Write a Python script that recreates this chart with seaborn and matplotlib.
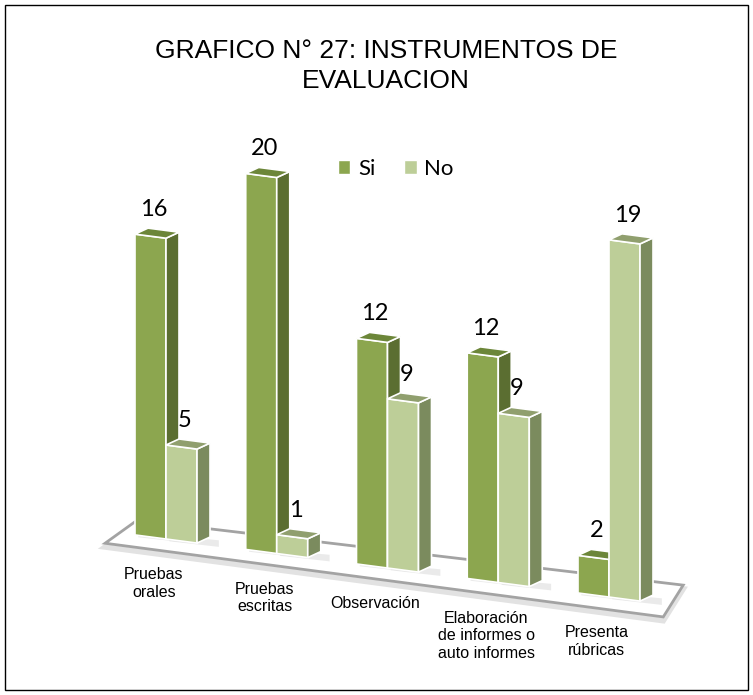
import matplotlib
matplotlib.use("Agg")
import matplotlib.pyplot as plt
import matplotlib.colors as mcolors
from matplotlib.patches import Polygon, Rectangle
from matplotlib.transforms import Affine2D
import numpy as np
import pandas as pd
import seaborn as sns

# datos del grafico
categorias = ["Pruebas\norales", "Pruebas\nescritas", "Observación",
              "Elaboración\nde informes o\nauto informes", "Presenta\nrúbricas"]
si = [16, 20, 12, 12, 2]
no = [5, 1, 9, 9, 19]

df = pd.DataFrame({
    "categoria": categorias * 2,
    "respuesta": ["Si"] * len(si) + ["No"] * len(no),
    "valor": si + no,
})

# colores: frente, lado, tapa
frente = {"Si": "#8CA64F", "No": "#BDCE98"}
lado = {"Si": "#5B6E31", "No": "#7B8B5E"}
tapa = {"Si": "#6C8639", "No": "#909F6E"}

sns.set_style("white")
plt.rcParams["font.family"] = ["Liberation Sans", "DejaVu Sans"]
plt.rcParams["text.color"] = "black"

W, H = 753, 695
PX_X, PX_Y = 110.75, 18.8      # pixeles por unidad
X0, Y0 = 166, 539              # posicion del origen (px desde arriba)
SHEAR = 0.131 * PX_X / PX_Y    # inclinacion del piso

fig = plt.figure(figsize=(W / 100, H / 100), dpi=100)
ax = fig.add_axes([0, 0, 1, 1])
sns.barplot(data=df, x="categoria", y="valor", hue="respuesta",
            palette=frente, width=0.56, saturation=1, errorbar=None, ax=ax)
ax.set_xlim(-X0 / PX_X, (W - X0) / PX_X)
ax.set_ylim(-(H - Y0) / PX_Y, Y0 / PX_Y)
ax.set_axis_off()

skew = Affine2D().from_values(1, -SHEAR, 0, 1, 0, 0) + ax.transData

dx = 13 / PX_X
dy = 6 / PX_Y + SHEAR * dx

barras = sorted([p for p in ax.patches if p.get_height() > 0], key=lambda p: p.get_x())
for p in ax.patches:
    if p.get_height() <= 0:
        p.set_visible(False)
hex_si = mcolors.to_hex(frente["Si"])

# piso
xmin = barras[0].get_x()
xmax = barras[-1].get_x() + barras[-1].get_width()
piso = [(xmin - 0.27, -0.65), (xmin + 0.02, 0.8), (xmax + 0.39, 1.15), (xmax + 0.21, -0.68)]
ax.add_patch(Polygon([(x, y - 0.2) for x, y in piso], closed=True, fc="none",
                     ec="#E2E2E2", lw=4, transform=skew, zorder=1))
ax.add_patch(Polygon(piso, closed=True, fc="white", ec="#A3A3A3", lw=2,
                     transform=skew, zorder=1.5))

for k, p in enumerate(barras):
    x0, w, h = p.get_x(), p.get_width(), p.get_height()
    x1 = x0 + w
    serie = "Si" if mcolors.to_hex(p.get_facecolor()) == hex_si else "No"
    z = 3 + k * 0.1
    # sombra suave
    ax.add_patch(Polygon([(x0 + 0.03, -0.1), (x1 + dx + 0.08, -0.05),
                          (x1 + dx + 0.08, 0.3), (x0 + 0.03, 0.2)],
                         closed=True, fc="#D6D6D6", ec="none", alpha=0.5,
                         transform=skew, zorder=z - 0.05))
    p.set_transform(skew)
    p.set_edgecolor("white")
    p.set_linewidth(1.2)
    p.set_zorder(z)
    ax.add_patch(Polygon([(x1, 0), (x1 + dx, dy), (x1 + dx, h + dy), (x1, h)],
                         closed=True, fc=lado[serie], ec="white", lw=1.2,
                         transform=skew, zorder=z + 0.01))
    ax.add_patch(Polygon([(x0, h), (x0 + dx, h + dy), (x1 + dx, h + dy), (x1, h)],
                         closed=True, fc=tapa[serie], ec="white", lw=1.2,
                         transform=skew, zorder=z + 0.02))
    ax.text(x0 + w / 2 + dx / 2 - 0.03, h + 27 / PX_Y, f"{int(h)}", transform=skew,
            ha="center", va="center", fontsize=17, family=["Lato", "DejaVu Sans"],
            color="black", zorder=20)

# etiquetas de categorias
for xc, cat in zip(ax.get_xticks(), categorias):
    ax.text(xc - 0.11, -30 / PX_Y, cat, transform=skew, ha="center", va="top",
            fontsize=11.5, linespacing=1.2, color="black", zorder=20)

sns.move_legend(ax, "center", bbox_to_anchor=(396 / W, 1 - 169 / H), ncol=2,
                title=None, frameon=False, handlelength=0.55, handleheight=0.55,
                handletextpad=0.35, columnspacing=1.3,
                prop={"family": ["Lato", "DejaVu Sans"], "size": 16})

fig.text(386 / W, 1 - 66 / H, "GRAFICO N° 27: INSTRUMENTOS DE\nEVALUACION",
         ha="center", va="center", fontsize=19, linespacing=1.3, color="black")

fig.add_artist(Rectangle((5 / W, 5 / H), (W - 10) / W, (H - 10) / H,
                         transform=fig.transFigure, fill=False, ec="black", lw=1))

fig.savefig("out.png", dpi=100)
